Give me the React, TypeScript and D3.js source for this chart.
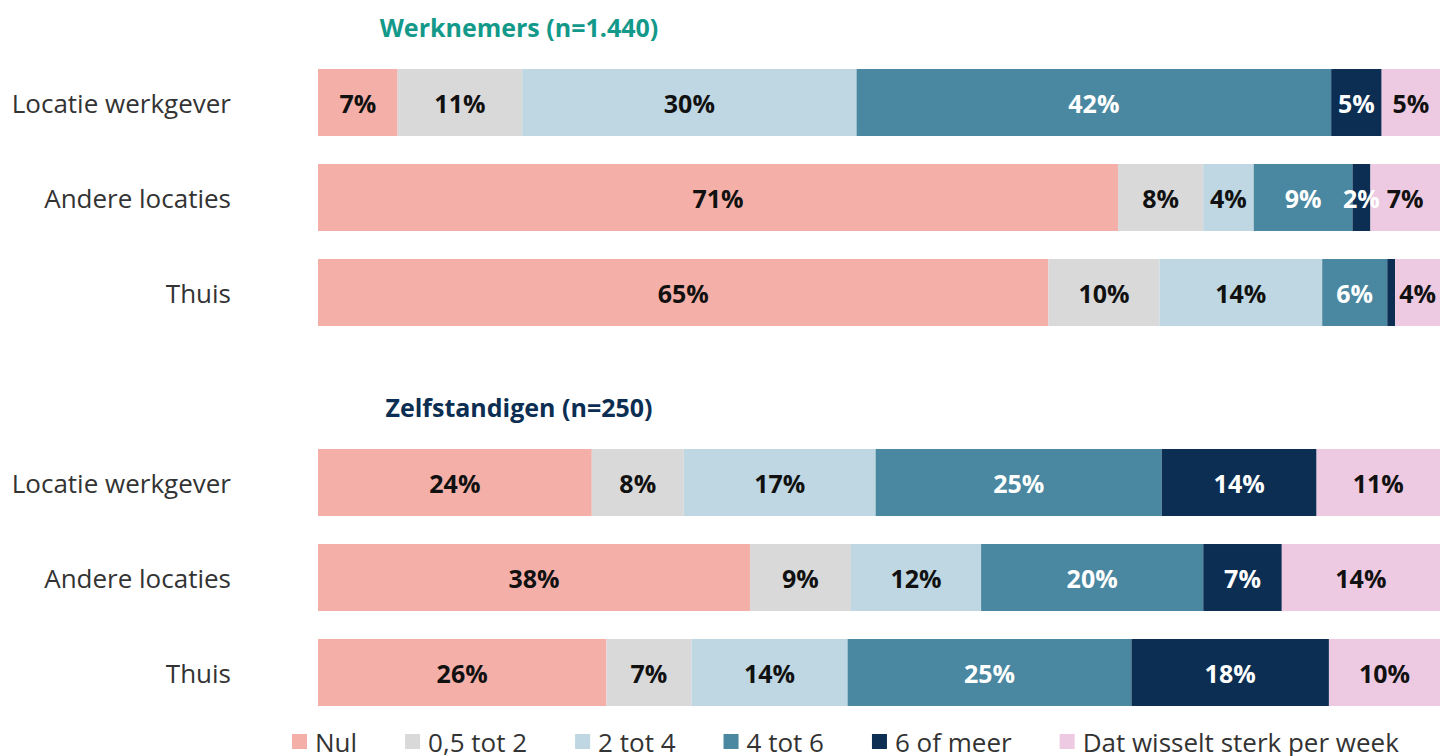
import { useEffect, useRef } from "react";
import * as d3 from "d3";

const rows = ["Locatie werkgever", "Andere locaties", "Thuis"];
const series = ["Nul", "0,5 tot 2", "2 tot 4", "4 tot 6", "6 of meer", "Dat wisselt sterk per week"];
const colors = ["#F4B0A8", "#D9D9D9", "#BED7E2", "#4A88A1", "#0B2E52", "#EDCAE1"];
const whiteText = [false, false, false, true, true, false];

// werknemers (n=1.440)
const werknemersValues = [
  [7.1, 11.1, 29.8, 42.3, 4.5, 5.2],
  [71.3, 7.6, 4.5, 8.8, 1.6, 6.2],
  [65.1, 9.9, 14.5, 5.8, 0.7, 4.0],
];
const werknemersLabels = [
  ["7%", "11%", "30%", "42%", "5%", "5%"],
  ["71%", "8%", "4%", "9%", "2%", "7%"],
  ["65%", "10%", "14%", "6%", "", "4%"],
];

// zelfstandigen (n=250)
const zelfstandigenValues = [
  [24.4, 8.2, 17.1, 25.5, 13.8, 11.0],
  [38.5, 9.0, 11.6, 19.8, 7.0, 14.1],
  [25.7, 7.6, 13.9, 25.3, 17.6, 9.9],
];
const zelfstandigenLabels = [
  ["24%", "8%", "17%", "25%", "14%", "11%"],
  ["38%", "9%", "12%", "20%", "7%", "14%"],
  ["26%", "7%", "14%", "25%", "18%", "10%"],
];

const groups = [
  { title: "Werknemers (n=1.440)", titleColor: "#12998A", values: werknemersValues, labels: werknemersLabels },
  { title: "Zelfstandigen (n=250)", titleColor: "#0B2E52", values: zelfstandigenValues, labels: zelfstandigenLabels },
];

const FONT = "'Open Sans', sans-serif";

export default function App() {
  const ref = useRef<SVGSVGElement>(null);

  useEffect(() => {
    if (!ref.current) return;
    const svg = d3.select(ref.current);
    svg.selectAll("*").remove();

    const x = d3.scaleLinear().domain([0, 100]).range([318, 1440]);
    const groupTop = [55, 435];
    const titleY = [27, 407];

    groups.forEach((grp, gi) => {
      const y = d3
        .scaleBand<string>()
        .domain(rows)
        .range([groupTop[gi], groupTop[gi] + 285])
        .paddingInner(0.295)
        .paddingOuter(0.1475);

      // titel
      svg
        .append("text")
        .attr("x", 519)
        .attr("y", titleY[gi])
        .attr("text-anchor", "middle")
        .attr("dominant-baseline", "central")
        .style("font-family", FONT)
        .style("font-size", "25px")
        .style("font-weight", "700")
        .style("fill", grp.titleColor)
        .text(grp.title);

      const g = svg.append("g");

      rows.forEach((row, ri) => {
        const vals = grp.values[ri];
        const cum = d3.cumsum(vals);
        const yy = y(row)!;
        const bh = y.bandwidth();

        // categorie label
        g.append("text")
          .attr("x", 231)
          .attr("y", yy + bh / 2)
          .attr("text-anchor", "end")
          .attr("dominant-baseline", "central")
          .style("font-family", FONT)
          .style("font-size", "26px")
          .style("fill", "#333")
          .text(row);

        const segs = vals.map((v, i) => ({ v, i, x0: cum[i] - v, x1: cum[i], label: grp.labels[ri][i] }));

        g.selectAll(null)
          .data(segs)
          .enter()
          .append("rect")
          .attr("x", (d) => x(d.x0))
          .attr("y", yy)
          .attr("width", (d) => Math.max(0, x(d.x1) - x(d.x0)))
          .attr("height", bh)
          .attr("fill", (d) => colors[d.i]);

        g.selectAll(null)
          .data(segs.filter((d) => d.label !== ""))
          .enter()
          .append("text")
          .attr("x", (d) => (x(d.x0) + x(d.x1)) / 2)
          .attr("y", yy + bh / 2)
          .attr("text-anchor", "middle")
          .attr("dominant-baseline", "central")
          .style("font-family", FONT)
          .style("font-size", "25px")
          .style("font-weight", "700")
          .style("fill", (d) => (whiteText[d.i] ? "#fff" : "#111"))
          .text((d) => d.label);
      });
    });

    // legenda
    const legend = svg.append("g").attr("transform", `translate(292, 742)`);
    let cx = 0;
    series.forEach((s, i) => {
      const item = legend.append("g").attr("transform", `translate(${cx}, 0)`);
      item
        .append("rect")
        .attr("x", 0)
        .attr("y", -8)
        .attr("width", 15)
        .attr("height", 15)
        .attr("fill", colors[i]);
      const t = item
        .append("text")
        .attr("x", 23)
        .attr("y", 0)
        .attr("dominant-baseline", "central")
        .style("font-family", FONT)
        .style("font-size", "26px")
        .style("fill", "#333")
        .text(s);
      const w = (t.node() as SVGTextElement).getComputedTextLength();
      cx += 23 + w + 48;
    });
  }, []);

  return (
    <div style={{ position: "absolute", left: 0, top: 0 }}>
      <svg ref={ref} width={1440} height={756} style={{ display: "block", background: "#fff" }} />
    </div>
  );
}
